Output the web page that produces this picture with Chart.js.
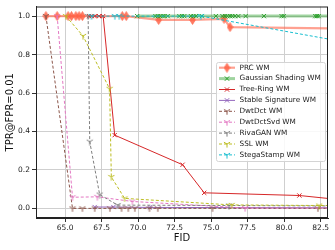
<!DOCTYPE html>
<html>
<head>
<meta charset="utf-8">
<script src="https://cdn.jsdelivr.net/npm/chart.js@4.4.0/dist/chart.umd.min.js"></script>
<style>
  html, body { margin: 0; padding: 0; background: #fff; }
</style>
</head>
<body>
<canvas id="c" width="335" height="250"></canvas>
<script>
const xTicks = [65.0, 67.5, 70.0, 72.5, 75.0, 77.5, 80.0, 82.5];
const yTicks = [0.0, 0.2, 0.4, 0.6, 0.8, 1.0];

const seriesNames = ['PRC WM', 'Gaussian Shading WM', 'Tree-Ring WM', 'Stable Signature WM',
  'DwtDct WM', 'DwtDctSvd WM', 'RivaGAN WM', 'SSL WM', 'StegaStamp WM'];

const prcFid = [63.68, 64.45, 65.2, 65.43, 65.73, 65.95, 66.18, 68.91, 69.18, 71.4, 73.72, 75.88, 76.29, 88.0];
const prcTpr = [1, 1, 1, 1, 1, 1, 1, 1, 1, 0.98, 0.98, 0.986, 0.943, 0.932];

const gsFid = [69.93, 71.18, 71.34, 71.52, 71.68, 71.8, 72.02, 72.82, 73.0, 73.16, 73.61, 73.79, 73.95,
  74.36, 75.32, 75.77, 75.95, 76.11, 76.29, 76.45, 76.63, 76.86, 77.36, 78.61, 79.82, 79.97, 82.13, 82.24, 82.36, 83.6];
const gsTpr = [1, 1, 1, 1, 1, 1, 1, 1, 1, 1, 1, 1, 1, 1, 1, 1, 1, 1, 1, 1, 1, 1, 1, 1, 1, 1, 1, 1, 1, 1];

const trFid = [66.63, 66.8, 67.02, 67.32, 67.6, 68.39, 73.04, 74.52, 81.04, 84.5];
const trTpr = [1, 1, 1, 1, 1, 0.381, 0.227, 0.081, 0.067, 0.04];

const ssFid = [67.02, 68.3, 70.8, 85.0];
const ssTpr = [0.007, 0.007, 0.005, 0.003];

const dctFid = [63.68, 65.5, 66.18, 67.02, 68.06, 68.86, 69.32, 69.77, 70.77, 71.34, 75.09, 82.31, 85.0];
const dctTpr = [1, 0, 0, 0, 0, 0, 0, 0, 0, 0, 0, 0, 0];

const svdFid = [64.45, 65.5, 67.2, 69.6, 77.32, 85.0];
const svdTpr = [1, 0.058, 0.06, 0.036, 0.002, 0.002];

const rivaFid = [66.57, 66.68, 67.36, 68.59, 76.22, 85.0];
const rivaTpr = [1, 0.347, 0.072, 0.017, 0.015, 0.012];

const sslFid = [65.05, 66.22, 68.04, 68.16, 69.07, 76.4, 82.4, 85.0];
const sslTpr = [1, 0.897, 0.622, 0.163, 0.052, 0.018, 0.015, 0.015];

const stegaFid = [66.8, 68.4, 68.7, 74.3, 86.0];
const stegaTpr = [1, 1, 1, 1, 0.84];

// small canvases used as point styles (thin diamond, tri_down)
function marker(kind, color) {
  const c = document.createElement('canvas');
  const g = c.getContext('2d');
  if (kind === 'diamond') {
    c.width = 7; c.height = 10;
    g.fillStyle = color; g.strokeStyle = color; g.lineWidth = 0.8;
    g.beginPath();
    g.moveTo(3.5, 0.5); g.lineTo(6.3, 5); g.lineTo(3.5, 9.5); g.lineTo(0.7, 5);
    g.closePath(); g.fill(); g.stroke();
  } else {
    c.width = 8; c.height = 8;
    g.strokeStyle = color; g.lineWidth = 1;
    g.beginPath();
    g.moveTo(4, 4); g.lineTo(4, 7.6);
    g.moveTo(4, 4); g.lineTo(0.9, 2.2);
    g.moveTo(4, 4); g.lineTo(7.1, 2.2);
    g.stroke();
  }
  return c;
}

function pts(xs, ys) { return xs.map((x, i) => ({ x, y: ys[i] })); }

function ds(i, xs, ys, color, lineColor, width, dash, style) {
  return {
    label: seriesNames[i],
    data: pts(xs, ys),
    borderColor: lineColor,
    backgroundColor: color,
    borderWidth: width,
    borderDash: dash,
    pointStyle: style,
    pointRadius: 3,
    pointBorderWidth: 1,
    pointBorderColor: color,
    pointBackgroundColor: color,
    tension: 0,
    order: 9 - i,
  };
}

const datasets = [
  ds(0, prcFid, prcTpr, 'rgba(255,99,71,0.85)', 'rgba(255,99,71,0.6)', 2.2, [], marker('diamond', 'rgba(255,99,71,0.85)')),
  ds(1, gsFid, gsTpr, '#2ca02c', 'rgba(44,160,44,0.45)', 3, [], 'crossRot'),
  ds(2, trFid, trTpr, '#d62728', '#d62728', 1, [], 'crossRot'),
  ds(3, ssFid, ssTpr, '#9467bd', '#9467bd', 1, [], 'crossRot'),
  ds(4, dctFid, dctTpr, '#8c564b', '#8c564b', 1, [3, 2], marker('tri', '#8c564b')),
  ds(5, svdFid, svdTpr, '#e377c2', '#e377c2', 1, [3, 2], marker('tri', '#e377c2')),
  ds(6, rivaFid, rivaTpr, '#7f7f7f', '#7f7f7f', 1, [3, 2], marker('tri', '#7f7f7f')),
  ds(7, sslFid, sslTpr, '#bcbd22', '#bcbd22', 1, [3, 2], marker('tri', '#bcbd22')),
  ds(8, stegaFid, stegaTpr, '#17becf', '#17becf', 1, [3, 2], marker('tri', '#17becf')),
];

const FONT = 'DejaVu Sans';

// frame on all four sides plus the boxed legend inside the plot
const framePlugin = {
  id: 'frame',
  afterDraw(chart) {
    const { ctx, chartArea: a } = chart;
    ctx.save();
    ctx.strokeStyle = '#222';
    ctx.lineWidth = 1;
    ctx.strokeRect(a.left + 0.5, a.top + 0.5, a.right - a.left - 1, a.bottom - a.top - 1);

    const bx = 216, by = 62, bw = 109, bh = 99;
    ctx.fillStyle = 'rgba(255,255,255,0.85)';
    ctx.strokeStyle = '#d4d4d4';
    ctx.beginPath();
    ctx.roundRect(bx + 0.5, by + 0.5, bw, bh, 2);
    ctx.fill(); ctx.stroke();

    ctx.font = '7.3px "' + FONT + '"';
    ctx.textBaseline = 'middle';
    chart.data.datasets.forEach((d, i) => {
      const y = 67.7 + i * 10.9;
      ctx.save();
      ctx.strokeStyle = d.borderColor;
      ctx.lineWidth = d.borderWidth;
      ctx.setLineDash(d.borderDash);
      ctx.beginPath();
      ctx.moveTo(219, y); ctx.lineTo(235, y);
      ctx.stroke();
      ctx.restore();
      const st = d.pointStyle;
      if (typeof st === 'object') {
        ctx.drawImage(st, 227 - st.width / 2, y - st.height / 2);
      } else {
        ctx.strokeStyle = d.pointBorderColor;
        ctx.lineWidth = 1;
        ctx.beginPath();
        ctx.moveTo(224.8, y - 2.2); ctx.lineTo(229.2, y + 2.2);
        ctx.moveTo(229.2, y - 2.2); ctx.lineTo(224.8, y + 2.2);
        ctx.stroke();
      }
      ctx.fillStyle = '#222';
      ctx.fillText(d.label, 239.5, y);
    });
    ctx.restore();
  }
};

new Chart(document.getElementById('c').getContext('2d'), {
  type: 'line',
  data: { datasets },
  options: {
    responsive: false,
    animation: false,
    devicePixelRatio: 1,
    layout: { padding: { top: 6, right: 7, left: 0, bottom: 0 } },
    plugins: { legend: { display: false }, tooltip: { enabled: false } },
    scales: {
      x: {
        type: 'linear',
        min: 63, max: 83,
        afterBuildTicks: s => { s.ticks = xTicks.map(v => ({ value: v })); },
        afterFit: s => { s.height = 32; },
        ticks: {
          callback: v => v.toFixed(1),
          font: { family: FONT, size: 7.5 }, color: '#222', padding: 2, maxRotation: 0,
        },
        grid: { color: '#cfcfcf', tickColor: '#333', tickLength: 4 },
        border: { display: true, color: '#222' },
        title: { display: true, text: 'FID', font: { family: FONT, size: 10 }, color: '#111', padding: { top: 0, bottom: 5.5 } },
      },
      y: {
        type: 'linear',
        min: -0.05, max: 1.05,
        afterBuildTicks: s => { s.ticks = yTicks.map(v => ({ value: v })); },
        afterFit: s => { s.width = 36; },
        ticks: {
          callback: v => v.toFixed(1),
          font: { family: FONT, size: 7.5 }, color: '#222', padding: 2,
        },
        grid: { color: '#cfcfcf', tickColor: '#333', tickLength: 4 },
        border: { display: true, color: '#222' },
        title: { display: true, text: 'TPR@FPR=0.01', font: { family: FONT, size: 10 }, color: '#111', padding: { top: 4, bottom: 0 } },
      },
    },
  },
  plugins: [framePlugin],
});
</script>
</body>
</html>
